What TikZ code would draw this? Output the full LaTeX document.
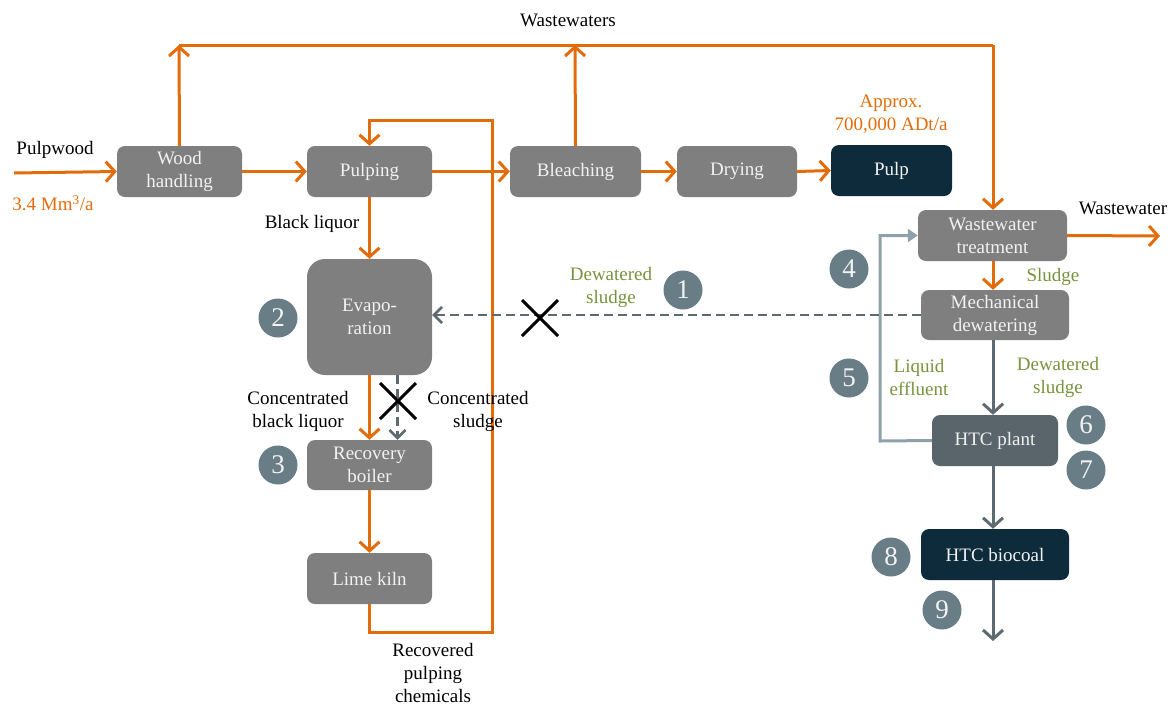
\documentclass[tikz,border=0pt]{standalone}
\usepackage{fontspec}
\setmainfont{Liberation Serif}
\usetikzlibrary{arrows.meta}
\definecolor{og}{HTML}{E36C0A}
\definecolor{boxgray}{HTML}{7F7F7F}
\definecolor{darkbox}{HTML}{0D2B3A}
\definecolor{htcgray}{HTML}{5A646B}
\definecolor{circ}{HTML}{687D86}
\definecolor{dgray}{HTML}{5E6A72}
\definecolor{lgray}{HTML}{8EA1AB}
\definecolor{grn}{HTML}{77933C}
\definecolor{txtw}{HTML}{F2F2F2}
\tikzset{
  txt/.style={font=\fontsize{19}{23}\selectfont, align=center, inner sep=0pt},
  pbox/.style={txt, rounded corners=8pt, fill=boxgray, text=txtw, minimum width=125pt, minimum height=51pt},
  dbox/.style={pbox, fill=darkbox},
  num/.style={circle, fill=circ, text=txtw, minimum size=39pt, inner sep=0pt, font=\fontsize{27}{27}\selectfont},
  barb/.style={-{Straight Barb[length=9pt,width=20pt,line width=3pt]}},
  oline/.style={draw=og, line width=3pt},
  oarrow/.style={oline, barb},
  garrow/.style={draw=dgray, line width=3pt, barb},
  darrow/.style={draw=dgray, line width=2.6pt, dash pattern=on 9pt off 5pt, -{Straight Barb[length=8pt,width=16pt,line width=2.6pt]}},
  larrow/.style={draw=lgray, line width=3pt, -{Triangle[length=10pt,width=13pt]}},
  xmark/.style={draw=black, line width=3pt},
}
\begin{document}
\begin{tikzpicture}[x=1pt,y=-1pt]
\useasboundingbox (0,0) rectangle (1172,705);
% boxes
\node[pbox] (wood) at (179.5,171.5) {Wood\\handling};
\node[pbox] (pulping) at (369.5,171.5) {Pulping};
\node[pbox, minimum width=131pt] (bleach) at (575.5,171.5) {Bleaching};
\node[pbox, minimum width=120pt] (dry) at (737,171.5) {Drying};
\node[dbox, minimum width=121pt] (pulp) at (891.5,170.5) {Pulp};
\node[pbox, minimum height=116pt, rounded corners=18pt] (evap) at (369.5,317) {Evapo-\\ration};
\node[pbox, minimum height=50pt] (boiler) at (369.5,465) {Recovery\\boiler};
\node[pbox] (lime) at (369.5,578.5) {Lime kiln};
\node[pbox, minimum width=149pt] (wwt) at (992.5,235.5) {Wastewater\\treatment};
\node[pbox, minimum width=148pt, minimum height=50pt] (mech) at (995,315) {Mechanical\\dewatering};
\node[pbox, fill=htcgray, minimum width=126pt] (htc) at (995,440.5) {HTC plant};
\node[dbox, minimum width=148pt] (bio) at (995,554.5) {HTC biocoal};
% coordinates
\coordinate (pw) at (14,173);
\coordinate (topL) at (179,45);
\coordinate (topM) at (575,45);
\coordinate (topR) at (993,45);
\coordinate (loopA) at (492,632);
\coordinate (loopB) at (492,120);
\coordinate (le) at (880,441);
\coordinate (wwout) at (1160,236);
\coordinate (bioout) at (993,641);
% orange flows
\draw[oarrow] (pw) -- (wood.west);
\draw[oarrow] (wood.east) -- (pulping.west);
\draw[oarrow] (wood.north) -- (topL);
\draw[oline] (topL) -- (topR);
\draw[oarrow] (topR) -- (topR |- wwt.north);
\draw[oarrow] (bleach.north) -- (topM);
\draw[oarrow] (pulping.east) -- (bleach.west);
\draw[oarrow] (bleach.east) -- (dry.west);
\draw[oarrow] (dry.east) -- (pulp.west);
\draw[oarrow] (lime.south) |- (loopA) -- (loopB) -| (pulping.north);
\draw[oarrow] (pulping.south) -- (evap.north);
\draw[oarrow] (evap.south) -- (boiler.north);
\draw[oarrow] (boiler.south) -- (lime.north);
\draw[oarrow] (wwt.east) -- (wwout);
\draw[oarrow] (wwt.south -| topR) -- (mech.north -| topR);
% gray flows
\draw[garrow] (mech.south -| topR) -- (htc.north -| topR);
\draw[garrow] (htc.south -| topR) -- (bio.north -| topR);
\draw[garrow] (bio.south -| topR) -- (bioout);
\draw[larrow] (htc.west) -- (le) |- (wwt.west);
\draw[darrow] (mech.west) -- (evap.east |- mech.west);
\draw[darrow] ([xshift=28pt]evap.south) -- ([xshift=28pt]boiler.north);
% crosses
\coordinate (x1) at (540,318);
\coordinate (x2) at (398,401);
\draw[xmark] ([shift={(-18,-18)}]x1) -- ([shift={(18,18)}]x1) ([shift={(-18,18)}]x1) -- ([shift={(18,-18)}]x1);
\draw[xmark] ([shift={(-18,-18)}]x2) -- ([shift={(18,18)}]x2) ([shift={(-18,18)}]x2) -- ([shift={(18,-18)}]x2);
% numbers
\node[num] (n1) at (683,290) {1};
\node[num] (n2) at (278,318) {2};
\node[num] (n3) at (278,465) {3};
\node[num] (n4) at (849,269) {4};
\node[num] (n5) at (849,378) {5};
\node[num] (n6) at (1086,425) {6};
\node[num] (n7) at (1086,470) {7};
\node[num] (n8) at (891,557) {8};
\node[num] (n9) at (942,610) {9};
% labels
\node[txt] (lpw) at (55,150) {Pulpwood};
\node[txt, text=og] (lvol) at (53,203) {3.4 Mm\textsuperscript{3}/a};
\node[txt] (lww) at (568,20) {Wastewaters};
\node[txt, text=og] (lapp) at (891,114) {Approx.\\700,000 ADt/a};
\node[txt] (lbl) at (312,224) {Black liquor};
\node[txt, text=grn] (lds1) at (611,287) {Dewatered\\sludge};
\node[txt] (lcbl) at (298,411) {Concentrated\\black liquor};
\node[txt] (lcs) at (478,411) {Concentrated\\sludge};
\node[txt] (lrpc) at (433,673) {Recovered\\pulping\\chemicals};
\node[txt] (lwwo) at (1123,208) {Wastewater};
\node[txt, text=grn] (lsl) at (1053,277) {Sludge};
\node[txt, text=grn] (lle) at (919,377) {Liquid\\effluent};
\node[txt, text=grn] (lds2) at (1058,377) {Dewatered\\sludge};
\end{tikzpicture}
\end{document}
